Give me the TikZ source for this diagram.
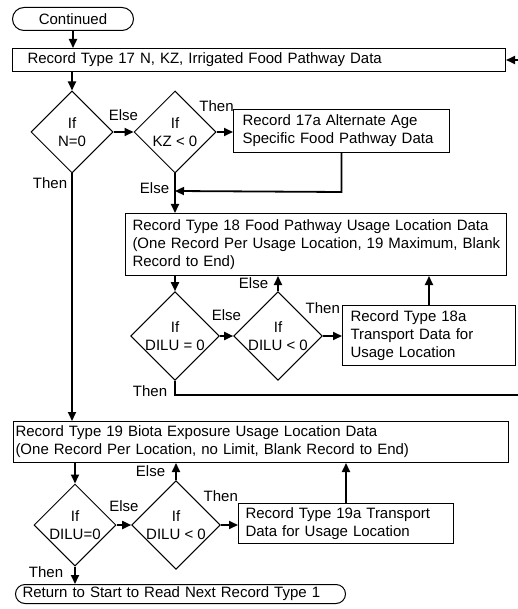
\documentclass[tikz,border=0pt]{standalone}
\usepackage{fontspec}
\setmainfont{Liberation Sans}
\usetikzlibrary{arrows.meta,shapes.geometric,positioning}

\begin{document}
\begin{tikzpicture}[x=1pt,y=-1pt,
    every node/.style={font=\fontsize{15}{18}\selectfont},
    recbox/.style={draw,line width=1pt,anchor=north west,align=left,inner xsep=7pt,inner ysep=0pt},
    termbox/.style={draw,line width=1pt,anchor=north west,inner xsep=7pt,inner ysep=0pt},
    ifbox/.style={draw,diamond,line width=1pt,align=center,minimum width=82pt,minimum height=82pt,inner sep=0pt},
    flow/.style={line width=1.8pt,-{Triangle[length=9pt,width=8pt]}},
    lbl/.style={inner sep=1pt}]
    \useasboundingbox (0,0) rectangle (518,609);

    % record 17 and its tests
    \node[termbox,rounded corners=11.5pt,minimum width=121pt,minimum height=23pt] (cont) at (12,7) {Continued};
    \node[recbox,inner xsep=15pt,text width=463pt,minimum height=23pt] (r17) at (12,48)
        {Record Type 17 N, KZ, Irrigated Food Pathway Data};
    \node[ifbox] (d1) at (72,132) {If\\N=0};
    \node[ifbox] (d2) at (175,132) {If\\KZ < 0};
    \node[recbox,inner xsep=9pt,text width=198pt,minimum height=43pt] (r17a) at (233,109)
        {Record 17a Alternate Age\\Specific Food Pathway Data};
    \coordinate (in17) at (518,60);

    % record 18 loop
    \node[recbox,inner xsep=4pt,text width=373pt,minimum height=62pt] (r18) at (125,213)
        {\hspace{3pt}Record Type 18 Food Pathway Usage Location Data\\\hspace{3pt}(One Record Per Usage Location, 19 Maximum, Blank\\\hspace{3pt}Record to End)};
    \node[ifbox] (d3) at (175,336) {If\\DILU = 0};
    \node[ifbox] (d4) at (278,336) {If\\DILU < 0};
    \node[recbox,inner xsep=8pt,text width=157pt,minimum height=60pt] (r18a) at (342,305)
        {Record Type 18a\\Transport Data for\\Usage Location};
    \coordinate (out18) at (518,395);

    % record 19 loop
    \node[recbox,inner xsep=2pt,text width=491pt,minimum height=41pt] (r19) at (13,421)
        {Record Type 19 Biota Exposure Usage Location Data\\(One Record Per Location, no Limit, Blank Record to End)};
    \node[ifbox] (d5) at (75,525) {If\\DILU=0};
    \node[ifbox] (d6) at (176,525) {If\\DILU < 0};
    \node[recbox,text width=201pt,minimum height=40pt] (r19a) at (238,503)
        {Record Type 19a Transport\\Data for Usage Location};
    \node[termbox,align=left,rounded corners=9.5pt,minimum width=330pt,minimum height=19pt,text width=316pt] (ret) at (15,584)
        {Return to Start to Read Next Record Type 1};

    % connectors
    \draw[flow] (cont) -- (cont |- r17.north);
    \draw[flow] (in17) -- (r17.east);
    \draw[flow] (d1 |- r17.south) -- (d1.north);
    \draw[flow] (d1.east) -- node[lbl,above=9pt] {Else} (d2.west);
    \draw[flow] (d2.east) -- (d2.east -| r17a.west);
    \node[lbl,above=19pt] at (d2.east) {Then};
    \draw[flow] (r17a.south) -- ++(0,39) -- (d2 |- 0,191);
    \draw[flow] (d2.south) -- node[lbl,left=4pt,pos=0.38] {Else} (d2 |- r18.north);
    \draw[flow] (d1.south) -- node[lbl,left=3pt,pos=0.04] {Then} (d1 |- r19.north);

    \draw[flow] (d3 |- r18.south) -- (d3.north);
    \draw[flow] (d3.east) -- node[lbl,above=13pt] {Else} (d4.west);
    \draw[flow] (d4.north) -- node[lbl,left=8pt] {Else} (d4 |- r18.south);
    \draw[flow] (d4.east) -- (d4.east -| r18a.west);
    \node[lbl,above=21pt] at (d4.east) {Then};
    \draw[flow] (r18a.north) -- (r18a.north |- r18.south);
    \draw[line width=1.8pt] (d3.south) |- node[lbl,left=6pt,pos=0.36] {Then} (out18);

    \draw[flow] (d5 |- r19.south) -- (d5.north);
    \draw[flow] (d5.east) -- node[lbl,above=11pt] {Else} (d6.west);
    \draw[flow] (d6.north) -- node[lbl,left=9pt] {Else} (d6 |- r19.south);
    \draw[flow] (d6.east) -- (d6.east -| r19a.west);
    \node[lbl,above=22pt] at (d6.east) {Then};
    \draw[flow] (r19a.north) -- (r19a.north |- r19.south);
    \draw[flow] (d5.south) -- node[lbl,left=10pt,pos=0.3] {Then} (d5 |- ret.north);
\end{tikzpicture}
\end{document}
